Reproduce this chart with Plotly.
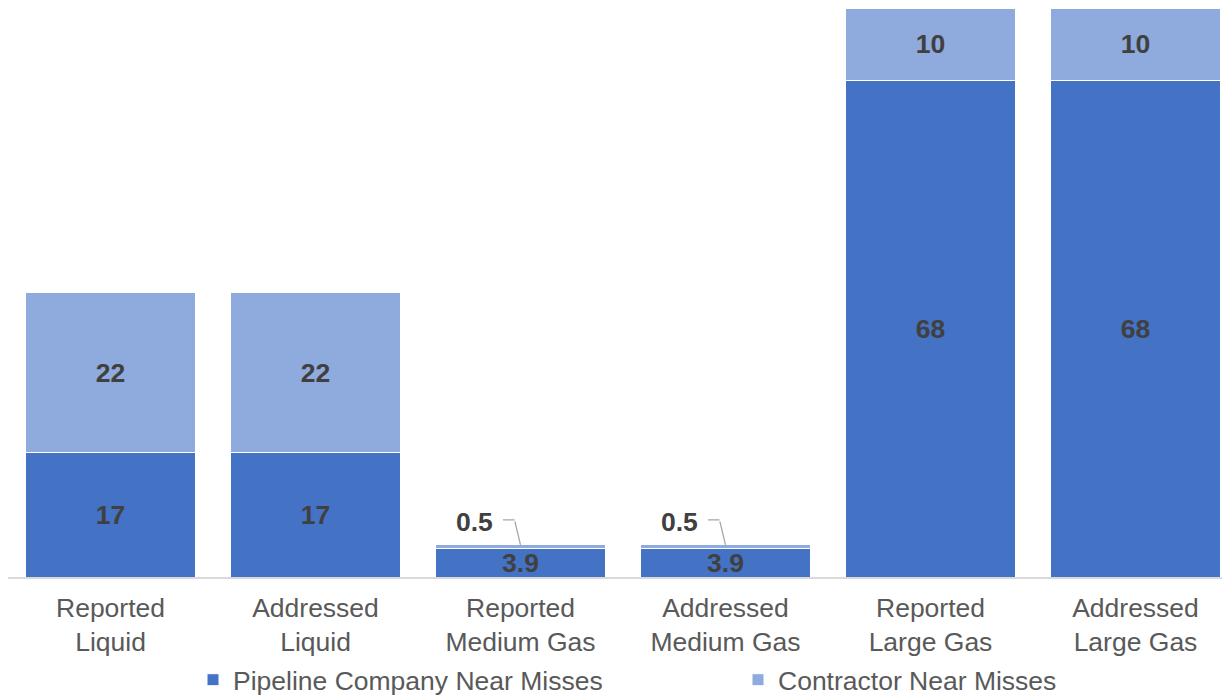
import plotly.graph_objects as go

categories = [
    "Reported<br>Liquid",
    "Addressed<br>Liquid",
    "Reported<br>Medium Gas",
    "Addressed<br>Medium Gas",
    "Reported<br>Large Gas",
    "Addressed<br>Large Gas",
]
pipeline_values = [17, 17, 3.9, 3.9, 68, 68]
contractor_values = [22, 22, 0.5, 0.5, 10, 10]

DARK = "#4472C4"
LIGHT = "#8FAADC"
LABEL = "#404040"
TICK = "#595959"
FONT = "Liberation Sans, Arial, sans-serif"
FS = 26.5

fig = go.Figure()

fig.add_trace(
    go.Bar(
        x=categories,
        y=pipeline_values,
        name="Pipeline Company Near Misses",
        marker=dict(color=DARK, line=dict(color="white", width=1)),
        width=0.834,
        text=[f"{v:g}" for v in pipeline_values],
        textposition="inside",
        insidetextanchor="middle",
        textfont=dict(family=FONT, size=FS, color=LABEL, weight="bold"),
    )
)

# small contractor values get an outside label with leader line instead
contractor_text = [f"{v:g}" if v >= 1 else "" for v in contractor_values]
fig.add_trace(
    go.Bar(
        x=categories,
        y=contractor_values,
        name="Contractor Near Misses",
        marker=dict(color=LIGHT, line=dict(color="white", width=1)),
        width=0.834,
        text=contractor_text,
        textposition="inside",
        insidetextanchor="middle",
        textfont=dict(family=FONT, size=FS, color=LABEL, weight="bold"),
    )
)

leader = dict(showarrow=True, arrowhead=0, arrowwidth=1.3, arrowcolor="#A6A6A6", text="")
for cat, p, c in zip(categories, pipeline_values, contractor_values):
    if c < 1:
        # diagonal part of the leader line
        fig.add_annotation(x=cat, y=p + c, ax=-6, ay=-25, standoff=0, **leader)
        # short horizontal part
        fig.add_annotation(x=cat, y=p + c, xshift=-6, yshift=25, ax=-13, ay=0, **leader)
        fig.add_annotation(
            x=cat,
            y=p + c,
            xshift=-46,
            yshift=23,
            text=f"<b>{c:g}</b>",
            showarrow=False,
            font=dict(family=FONT, size=FS, color=LABEL),
        )

# page body adds an 8px offset, so the figure is 1222x688
fig.update_layout(
    barmode="stack",
    width=1222,
    height=688,
    margin=dict(l=0, r=0, t=0, b=119, autoexpand=False),
    paper_bgcolor="white",
    plot_bgcolor="white",
    font=dict(family=FONT, size=FS, color=TICK),
    uniformtext=dict(minsize=FS, mode="show"),
    showlegend=True,
    legend=dict(
        orientation="h",
        traceorder="normal",
        x=0.1514,
        xanchor="left",
        y=-0.181,
        yanchor="middle",
        font=dict(family=FONT, size=FS, color=TICK),
        entrywidth=500,
        entrywidthmode="pixels",
    ),
    xaxis=dict(
        range=[-0.5, 5.461],
        showline=True,
        linecolor="#D9D9D9",
        linewidth=1.5,
        ticks="",
        showgrid=False,
        automargin=False,
        ticklabelstandoff=6,
        tickfont=dict(family=FONT, size=FS, color=TICK),
    ),
    yaxis=dict(
        range=[0, 78],
        visible=False,
        showgrid=False,
        automargin=False,
    ),
)

fig.write_html("out.html")
